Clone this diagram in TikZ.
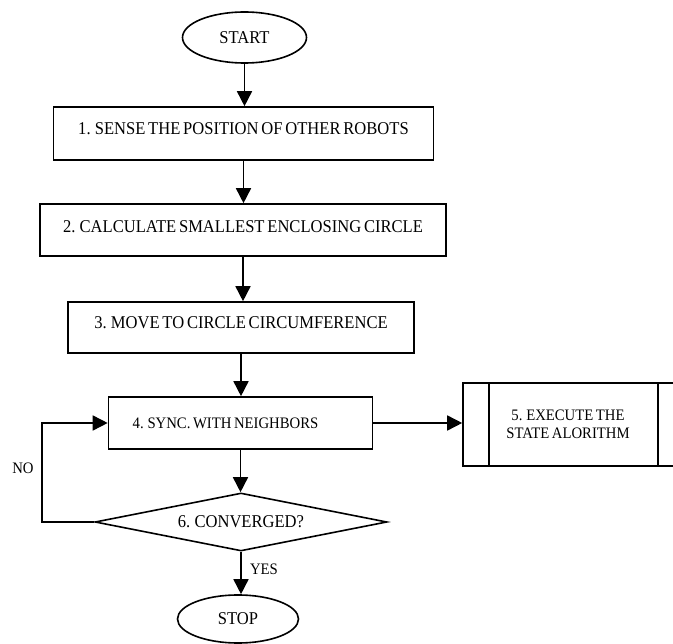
\documentclass[tikz,border=0pt]{standalone}
\usepackage{fontspec}
\setmainfont[FakeStretch=0.92]{Liberation Serif}
\usetikzlibrary{arrows.meta,shapes.geometric}

% slightly condensed type with tight word spacing
\newcommand{\chartfont}{\fontsize{18}{18}\selectfont\spaceskip=2.8pt plus 1pt minus 1pt\relax}
\newcommand{\chartsmall}{\fontsize{16}{18}\selectfont\spaceskip=2.6pt plus 1pt minus 1pt\relax}

\tikzset{
  base/.style={draw=black, line width=1.6pt, inner sep=0pt, font=\chartfont},
  terminal/.style={base, ellipse},
  procbox/.style={base, rectangle, text height=12pt, text depth=9pt},
  subproc/.style={base, rectangle, align=center, font=\chartsmall},
  decision/.style={base, diamond, aspect=5},
  tag/.style={inner sep=0pt, font=\chartsmall},
  arr/.style={line width=1.6pt, -{Triangle[length=15pt,width=15pt]}},
}

\begin{document}
\begin{tikzpicture}[x=1pt,y=-1pt]
  \useasboundingbox (0,0) rectangle (673,644);
  \fill[white] (0,0) rectangle (673,644);

  % terminals
  \node[terminal, minimum width=124pt, minimum height=51pt] (start) at (244.5,37.5) {START};
  \node[terminal, minimum width=121pt, minimum height=48pt] (stop) at (238,619) {STOP};

  % process steps
  \node[procbox, minimum width=380pt, minimum height=53pt] (s1) at (243.5,133.5)
    {1. SENSE THE POSITION OF OTHER ROBOTS};
  \node[procbox, minimum width=406pt, minimum height=52pt, text depth=6pt] (s2) at (243,230)
    {2. CALCULATE SMALLEST ENCLOSING CIRCLE};
  \node[procbox, minimum width=346pt, minimum height=51pt] (s3) at (241,327.5)
    {3. MOVE TO CIRCLE CIRCUMFERENCE};
  \node[procbox, minimum width=264pt, minimum height=52pt, text height=11pt, text depth=0pt, font=\chartsmall] (s4) at (240.5,423)
    {\hspace*{-30pt}4. SYNC. WITH NEIGHBORS};

  % predefined process
  \node[subproc, minimum width=221pt, minimum height=83pt] (s5) at (573.5,424.5)
    {\hspace*{-11pt}5. EXECUTE THE\\\hspace*{-11pt}STATE ALORITHM};
  \draw[line width=1.6pt] ([xshift=27pt]s5.north west) -- ([xshift=27pt]s5.south west);
  \draw[line width=1.6pt] ([xshift=-27pt]s5.north east) -- ([xshift=-27pt]s5.south east);

  % decision
  \node[decision, minimum width=292pt, minimum height=58pt] (dec) at (241,522)
    {6. CONVERGED?};

  % flow
  \draw[arr] (start.south) -- (start.south |- s1.north);
  \draw[arr] (s1.south) -- (s1.south |- s2.north);
  \draw[arr] (s2.south) -- (s2.south |- s3.north);
  \draw[arr] (s3.south) -- (s3.south |- s4.north);
  \draw[arr] (s4.south) -- (s4.south |- dec.north);
  \draw[arr] (s4.east) -- (s4.east -| s5.west);
  \draw[arr] (dec.south) -- (dec.south |- stop.north);

  % retry loop
  \coordinate (loopx) at (42,0);
  \draw[arr] (dec.west) -- (dec.west -| loopx) |- (s4.west);

  % branch labels
  \node[tag] (no) at (23,468) {NO};
  \node[tag] (yes) at (264,569) {YES};
\end{tikzpicture}
\end{document}
